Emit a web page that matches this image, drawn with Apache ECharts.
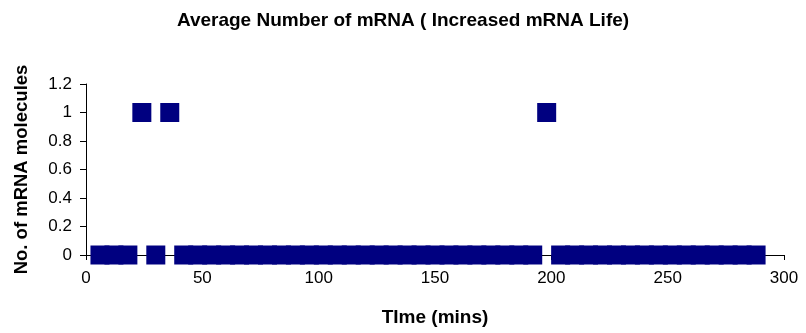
<!DOCTYPE html>
<html>
<head>
<meta charset="utf-8">
<script src="https://cdn.jsdelivr.net/npm/echarts@6/dist/echarts.min.js"></script>
<style>
  html, body { margin: 0; padding: 0; background: #ffffff; }
  #chart { width: 806px; height: 333px; }
</style>
</head>
<body>
<div id="chart"></div>
<script>
// Sampling times (minutes)
const times = [6, 12, 18, 24, 30, 36, 42, 48, 54, 60, 66, 72, 78, 84, 90, 96,
  102, 108, 114, 120, 126, 132, 138, 144, 150, 156, 162, 168, 174, 180, 186, 192,
  198, 204, 210, 216, 222, 228, 234, 240, 246, 252, 258, 264, 270, 276, 282, 288];
// Average mRNA count at each sampling time
const mrnaCounts = [0, 0, 0, 1, 0, 1, 0, 0, 0, 0, 0, 0, 0, 0, 0, 0,
  0, 0, 0, 0, 0, 0, 0, 0, 0, 0, 0, 0, 0, 0, 0, 0,
  1, 0, 0, 0, 0, 0, 0, 0, 0, 0, 0, 0, 0, 0, 0, 0];

const chartTitle = 'Average Number of mRNA ( Increased mRNA Life)';
const xTitle = 'TIme (mins)';
const yTitle = 'No. of mRNA molecules';

const points = times.map((t, i) => [t, mrnaCounts[i]]);

const FONT = '"Liberation Sans", Arial, sans-serif';
const axisLine = { show: true, onZero: false, lineStyle: { color: '#000000', width: 1 } };

const chart = echarts.init(document.getElementById('chart'), null, { renderer: 'canvas' });
chart.setOption({
  animation: false,
  backgroundColor: '#ffffff',
  title: {
    text: chartTitle,
    left: 'center',
    top: 6,
    textStyle: { fontFamily: FONT, fontSize: 19, fontWeight: 'bold', color: '#000000' }
  },
  grid: { left: 86, right: 22, top: 84, bottom: 78 },
  xAxis: {
    type: 'value',
    min: 0, max: 300, interval: 50,
    name: xTitle,
    nameLocation: 'middle',
    nameGap: 53,
    nameTextStyle: { fontFamily: FONT, fontSize: 19, fontWeight: 'bold', color: '#000000' },
    axisLine: axisLine,
    axisTick: { show: true, inside: false, length: 5, lineStyle: { color: '#000000' } },
    axisLabel: { fontFamily: FONT, fontSize: 17, color: '#000000', margin: 15 },
    splitLine: { show: false }
  },
  yAxis: {
    type: 'value',
    min: 0, max: 1.2, interval: 0.2,
    name: yTitle,
    nameLocation: 'middle',
    nameGap: 55,
    nameTextStyle: { fontFamily: FONT, fontSize: 18.5, fontWeight: 'bold', color: '#000000' },
    axisLine: axisLine,
    axisTick: { show: true, inside: false, length: 6, lineStyle: { color: '#000000' } },
    axisLabel: { fontFamily: FONT, fontSize: 17, color: '#000000', margin: 14,
      formatter: v => String(Math.round(v * 10) / 10) },
    splitLine: { show: false }
  },
  series: [{
    type: 'scatter',
    data: points,
    symbol: 'rect',
    symbolSize: 19,
    itemStyle: { color: '#000080', opacity: 1 }
  }]
});
</script>
</body>
</html>
